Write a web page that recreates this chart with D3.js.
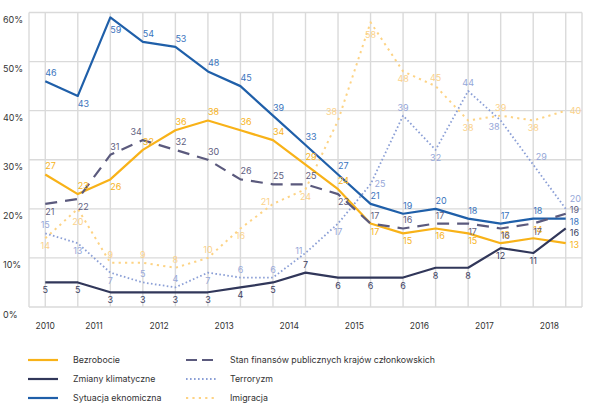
<!DOCTYPE html>
<html><head><meta charset="utf-8">
<script src="https://cdn.jsdelivr.net/npm/d3@7"></script>
<style>body{margin:0;background:#fff} svg text{font-family:Inter, "Noto Sans", sans-serif}</style>
</head><body><svg id="c" width="601" height="416"></svg>
<script>
// ---- data ----
const waves = [0,1,2,3,4,5,6,7,8,9,10,11,12,13,14,15,16];
const yearLabels = ["2010","2011","2012","2013","2014","2015","2016","2017","2018"];
const yearTickAt = [0,1.5,3.5,5.5,7.5,9.5,11.5,13.5,15.5];
const yTicks = [0,10,20,30,40,50,60];

const bezrobocie = [27,23,26,32,36,38,36,34,29,24,17,15,16,15,13,14,13];
const klimat     = [5,5,3,3,3,3,4,5,7,6,6,6,8,8,12,11,16];
const sytuacja   = [46,43,59,54,53,48,45,39,33,27,21,19,20,18,17,18,18];
const finanse    = [21,22,31,34,32,30,26,25,25,23,17,16,17,17,16,17,19];
const terroryzm  = [15,13,7,5,4,7,6,6,11,17,25,39,32,44,38,29,20];
const imigracja  = [14,20,9,9,8,10,16,21,24,38,58,48,45,38,39,38,40];

// ---- styles / label placement ----
const series = [
  {name:"Imigracja", values:imigracja, color:"#fdd384", label:"#fbd28a", width:2, dash:"2.2,4.2", anchor:"middle",
   pos:"b B a a a a b l b al B b a b a b r"},
  {name:"Terroryzm", values:terroryzm, color:"#8b9fd6", label:"#96a7d8", width:1.8, dash:"1.6,2.4", anchor:"middle",
   pos:"a b b a a b a a l b r a b a bl ar rt"},
  {name:"Bezrobocie", values:bezrobocie, color:"#f8b218", label:"#f7b320", width:2.2, dash:null, anchor:"start",
   pos:"a a b a a a a a a a b b b b a a ro"},
  {name:"Sytuacja eknomiczna", values:sytuacja, color:"#1f5fa9", label:"#3a74bd", width:2.2, dash:null, anchor:"start",
   pos:"a b B a a a a a a a a a a a a a rd"},
  {name:"Zmiany klimatyczne", values:klimat, color:"#31375a", label:"#3b405f", width:2.2, dash:null, anchor:"middle",
   pos:"b b b b b b b b a b b b b b b b rn"},
  {name:"Stan finansów publicznych krajów członkowskich", values:finanse, color:"#5b5a7d", label:"#605d80", width:2.2, dash:"12,8", anchor:"start",
   pos:"b b a al a a a a a b a a a b b b rm"}
];
const legendCols = [
  ["Bezrobocie","Zmiany klimatyczne","Sytuacja eknomiczna"],
  ["Stan finansów publicznych krajów członkowskich","Terroryzm","Imigracja"]
];
const posMap = {
  a:{dx:0,dy:-5}, b:{dx:0,dy:11}, B:{dx:0,dy:16},
  r:{dx:4,dy:3,anchor:"start"}, rt:{dx:4,dy:-7,anchor:"start"},
  rm:{dx:4,dy:-0.5,anchor:"start"}, rd:{dx:4,dy:6,anchor:"start"},
  rn:{dx:4,dy:7.5,anchor:"start"}, ro:{dx:4,dy:4.5,anchor:"start"},
  l:{dx:-3,dy:1,anchor:"end"}, al:{dx:-1,dy:-5,anchor:"end"}, bl:{dx:-1,dy:10,anchor:"end"},
  ar:{dx:8,dy:-5}
};

const svg = d3.select("#c");
const pLeft = 29, pRight = 582, pTop = 12.5, pBottom = 307;
const step = (pRight-pLeft)/waves.length;
const x = d3.scaleLinear().domain([0, waves.length-1]).range([pLeft+step/2, pRight-step/2]);
const y = d3.scaleLinear().domain([0,60]).range([pBottom, pTop]);

// grid
const g = svg.append("g");
g.selectAll(".h").data(yTicks).join("line")
  .attr("x1",pLeft).attr("x2",pRight).attr("y1",d=>y(d)).attr("y2",d=>y(d))
  .attr("stroke","#dadada").attr("stroke-width",1.4);
g.append("g").selectAll("line").data(waves).join("line")
  .attr("x1",d=>x(d)).attr("x2",d=>x(d)).attr("y1",pTop).attr("y2",pBottom)
  .attr("stroke","#dadada").attr("stroke-width",1.4);
g.append("g").selectAll("line").data([pLeft,pRight]).join("line")
  .attr("x1",d=>d).attr("x2",d=>d).attr("y1",pTop).attr("y2",pBottom)
  .attr("stroke","#dadada").attr("stroke-width",1.4);

// axes labels
svg.append("g").selectAll("text").data(yTicks).join("text")
  .attr("x",3).attr("y",d=>y(d)+10.5).attr("font-size",9).attr("fill","#333")
  .text(d=>d+"%");
svg.append("g").selectAll("text").data(yearLabels).join("text")
  .attr("x",(d,i)=>x(yearTickAt[i])).attr("y",329).attr("text-anchor","middle")
  .attr("font-size",8.5).attr("fill","#333").text(d=>d);

// lines
const line = d3.line().x((d,i)=>x(waves[i])).y(d=>y(d));
series.forEach(s=>{
  svg.append("path").datum(s.values).attr("d",line).attr("fill","none")
    .attr("stroke",s.color).attr("stroke-width",s.width)
    .attr("stroke-dasharray",s.dash).attr("stroke-linejoin","round");
});
// labels
series.forEach(s=>{
  const codes = s.pos.split(" ");
  svg.append("g").selectAll("text").data(s.values).join("text")
    .attr("x",(d,i)=>x(waves[i])+posMap[codes[i]].dx)
    .attr("y",(d,i)=>y(d)+posMap[codes[i]].dy)
    .attr("text-anchor",(d,i)=>posMap[codes[i]].anchor||s.anchor)
    .attr("font-size",9).attr("fill",s.label).text(d=>d);
});

// legend
const byName = Object.fromEntries(series.map(s=>[s.name,s]));
legendCols.forEach((col,ci)=>{
  const sx = ci===0 ? 28 : 186, tx = ci===0 ? 73 : 230;
  col.forEach((name,ri)=>{
    const s = byName[name], yy = 360 + ri*19;
    svg.append("line").attr("x1",sx).attr("x2",sx+30).attr("y1",yy).attr("y2",yy)
      .attr("stroke",s.color).attr("stroke-width",s.width)
      .attr("stroke-dasharray", s.dash ? (s.name==="Stan finansów publicznych krajów członkowskich" ? "11,5" : s.dash) : null);
    svg.append("text").attr("x",tx).attr("y",yy+3.2).attr("font-size",8.8).attr("fill","#333").text(name);
  });
});
</script></body></html>
